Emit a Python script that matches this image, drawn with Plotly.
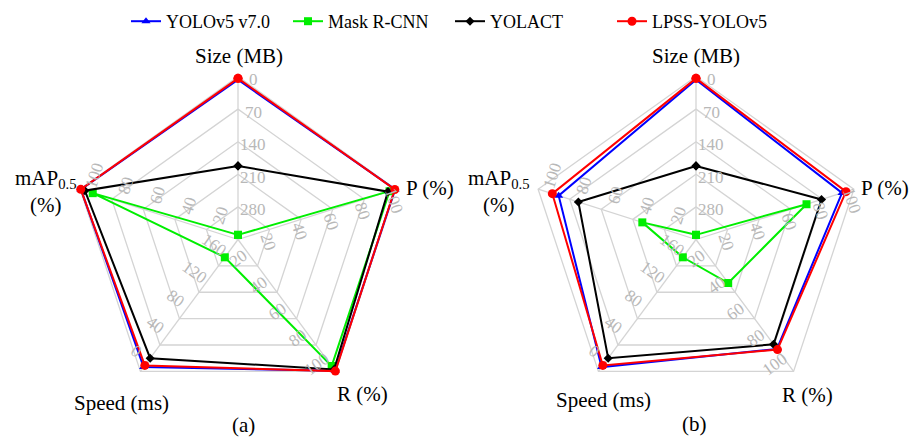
import numpy as np
import plotly.graph_objects as go

# ---- data -------------------------------------------------------------
models = ["YOLOv5 v7.0", "Mask R-CNN", "YOLACT", "LPSS-YOLOv5"]
axis_titles = ["Size (MB)", "P (%)", "R (%)", "Speed (ms)", "mAP<sub>0.5</sub><br>(%)"]

# model size and inference speed (shared by both panels)
size_mb = [7, 340, 192, 4]
speed_ms = [6.5, 173, 20, 9]

# panel (a)
p_a = [99.5, 96, 95, 99.3]
r_a = [99.5, 96, 98.5, 99.8]
map_a = [99.5, 92, 97, 99.6]

# panel (b)
p_b = [92.5, 70, 79.5, 95]
r_b = [83, 33, 79.5, 83.5]
map_b = [87, 34, 74.5, 91]

# tick labels of each spoke (innermost ring -> outer ring)
size_ticks = [280, 210, 140, 70, 0]
pct_ticks = [20, 40, 60, 80, 100]
speed_ticks = [160, 120, 80, 40, 0]

# ---- styling ----------------------------------------------------------
colors = ["#0000ff", "#00ee00", "#000000", "#ff0000"]
symbols = ["triangle-up", "square", "diamond", "circle"]
msizes = [8, 8, 7, 9]
SERIF = "Times New Roman, Liberation Serif, serif"
GRID = "#d4d4d4"
TICK = "#b8b8b8"

W, H = 911, 441
RX, RY = 166.0, 163.0           # pixel radius of the outer ring
CY = 239.5                      # pixel row of both centres
panels = [dict(cx=238.0, x0=0.0, x1=455.5), dict(cx=696.0, x0=455.5, x1=911.0)]

# spoke angles, clockwise from the top
theta = np.deg2rad([0, 72, 144, 216, 288])


def scale_size(v):
    return (350.0 - v) / 350.0


def scale_pct(v):
    return v / 100.0


def scale_speed(v):
    return (200.0 - v) / 200.0


scalers = [scale_size, scale_pct, scale_pct, scale_speed, scale_pct]
tick_sets = [size_ticks, pct_ticks, pct_ticks, speed_ticks, pct_ticks]
# per-spoke label offsets (px, screen) and rotation
tick_shift = [(15, 3), (-1.5, 12), (-19, -7), (-4, -20), (14, -14)]
tick_angle = [0, 72, -36, 36, -72]


def to_xy(rs):
    rs = np.asarray(rs, dtype=float)
    return rs * np.sin(theta), rs * np.cos(theta)


fig = go.Figure()
annotations = []

panel_data = [
    (size_mb, p_a, r_a, speed_ms, map_a),
    (size_mb, p_b, r_b, speed_ms, map_b),
]

for k, (pan, data) in enumerate(zip(panels, panel_data)):
    xa = "x" if k == 0 else "x2"
    ya = "y" if k == 0 else "y2"

    # pentagon rings
    for ring in [0.2, 0.4, 0.6, 0.8, 1.0]:
        gx, gy = to_xy([ring] * 5)
        fig.add_trace(go.Scatter(
            x=list(gx) + [gx[0]], y=list(gy) + [gy[0]], mode="lines",
            line=dict(color=GRID, width=1.3), hoverinfo="skip",
            showlegend=False, xaxis=xa, yaxis=ya))
    # spokes
    ox, oy = to_xy([1.0] * 5)
    sx, sy = [], []
    for i in range(5):
        sx += [0, ox[i], None]
        sy += [0, oy[i], None]
    fig.add_trace(go.Scatter(
        x=sx, y=sy, mode="lines", line=dict(color=GRID, width=1.3),
        hoverinfo="skip", showlegend=False, xaxis=xa, yaxis=ya))

    # series
    for m in range(len(models)):
        rs = [scalers[a](data[a][m]) for a in range(5)]
        px, py = to_xy(rs)
        fig.add_trace(go.Scatter(
            x=list(px) + [px[0]], y=list(py) + [py[0]],
            mode="lines+markers", name=models[m], legendgroup=models[m],
            showlegend=(k == 0),
            line=dict(color=colors[m], width=2),
            marker=dict(symbol=symbols[m], size=msizes[m], color=colors[m]),
            xaxis=xa, yaxis=ya))

    # rotated tick labels on every spoke
    for a in range(5):
        for t in tick_sets[a]:
            rr = scalers[a](t)
            annotations.append(dict(
                x=rr * np.sin(theta[a]), y=rr * np.cos(theta[a]),
                xref=xa, yref=ya, text=str(t), showarrow=False,
                textangle=tick_angle[a],
                xshift=tick_shift[a][0], yshift=-tick_shift[a][1],
                font=dict(family=SERIF, size=17, color=TICK)))

    xr = [-(pan["cx"] - pan["x0"]) / RX, (pan["x1"] - pan["cx"]) / RX]
    yr = [-(H - CY) / RY, CY / RY]
    axis_common = dict(visible=False, showgrid=False, zeroline=False, fixedrange=True)
    fig.update_layout({
        ("xaxis" if k == 0 else "xaxis2"): dict(
            domain=[pan["x0"] / W, pan["x1"] / W], range=xr, anchor=ya, **axis_common),
        ("yaxis" if k == 0 else "yaxis2"): dict(
            domain=[0, 1], range=yr, anchor=xa, **axis_common),
    })


def paper_text(txt, px, py, size=21, xanchor="center"):
    annotations.append(dict(
        x=px / W, y=1 - py / H, xref="paper", yref="paper", text=txt,
        showarrow=False, xanchor=xanchor, yanchor="middle", align="center",
        font=dict(family=SERIF, size=size, color="black")))


# spoke titles and panel captions
paper_text(axis_titles[0], 239, 56)
paper_text(axis_titles[1], 404, 188, xanchor="left")
paper_text(axis_titles[2], 362, 394)
paper_text(axis_titles[3], 121, 403)
paper_text(axis_titles[4], 46, 191)
paper_text("(a)", 243, 425)

paper_text(axis_titles[0], 696, 56)
paper_text(axis_titles[1], 859, 188, xanchor="left")
paper_text(axis_titles[2], 807, 395)
paper_text(axis_titles[3], 603, 400)
paper_text(axis_titles[4], 499, 191)
paper_text("(b)", 694, 424)

fig.update_layout(
    width=W, height=H,
    margin=dict(l=0, r=0, t=0, b=0),
    paper_bgcolor="white", plot_bgcolor="white",
    annotations=annotations,
    legend=dict(orientation="h", x=126 / W, xanchor="left", y=1 - 3 / H, yanchor="top",
                font=dict(family=SERIF, size=18, color="black"),
                bgcolor="rgba(0,0,0,0)", itemwidth=30,
                entrywidth=117, entrywidthmode="pixels"),
)

fig.write_html("out.html")
